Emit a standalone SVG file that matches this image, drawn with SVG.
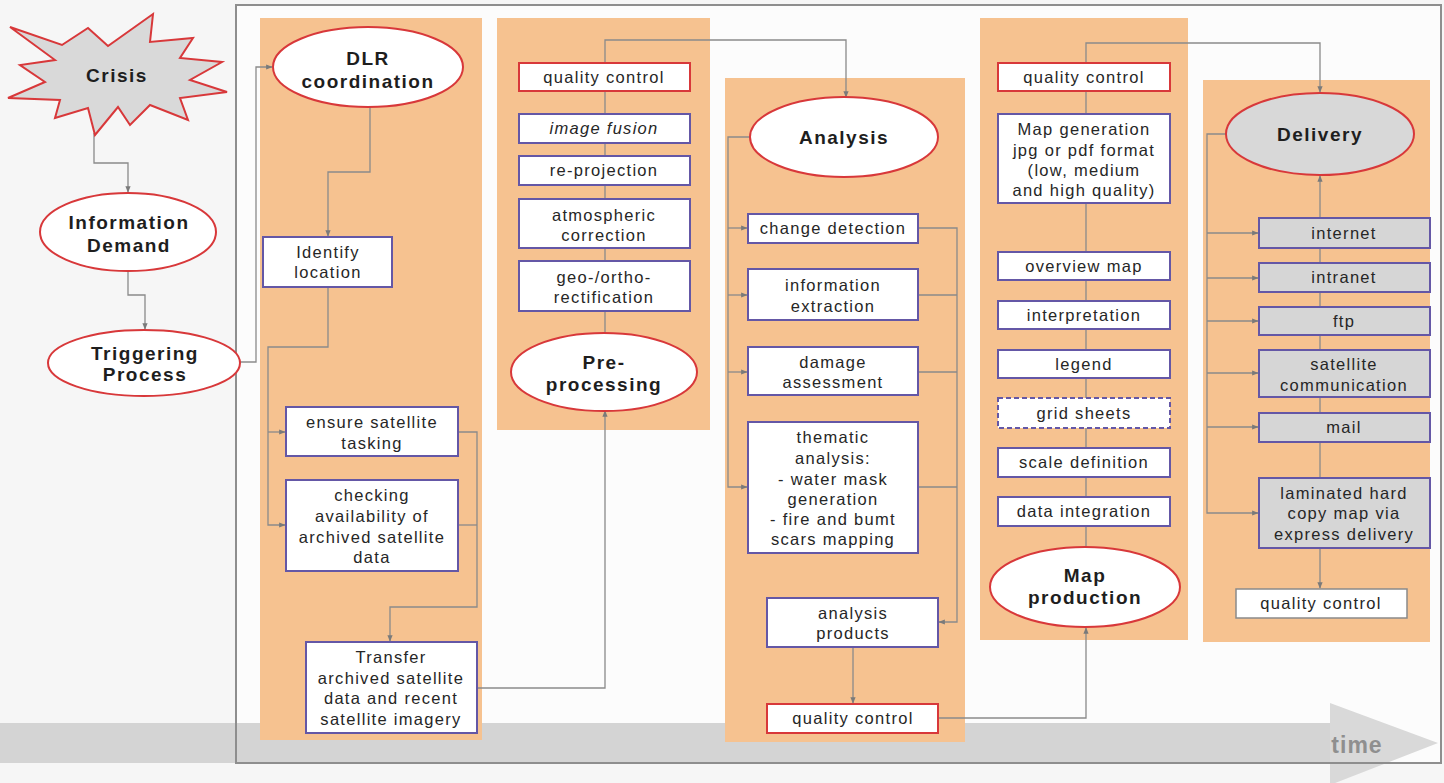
<svg xmlns="http://www.w3.org/2000/svg" width="1444" height="783" viewBox="0 0 1444 783">
  <style>
    .col { fill: #f6c290; }
    .box { fill: #ffffff; stroke: #6457a6; stroke-width: 2; }
    .qc { fill: #ffffff; stroke: #d8383a; stroke-width: 2; }
    .gbox { fill: #d6d6d6; stroke: #6457a6; stroke-width: 2; }
    .ell { fill: #ffffff; stroke: #d8383a; stroke-width: 2; }
    .gell { fill: #d8d8d8; stroke: #d8383a; stroke-width: 2; }
    .t { font-family: "Liberation Sans", Arial, sans-serif; font-size: 16.5px; letter-spacing: 1.3px; fill: #262626; text-anchor: middle; }
    .h { font-family: "Liberation Sans", Arial, sans-serif; font-size: 19px; font-weight: bold; letter-spacing: 1.5px; fill: #1e1e1e; text-anchor: middle; }
    .con { fill: none; stroke: #8a8a8a; stroke-width: 1.3; }
  </style>
  <defs>
    <marker id="arr" viewBox="0 0 10 10" refX="9" refY="5" markerWidth="5" markerHeight="5" orient="auto-start-reverse">
      <path d="M0,1 L10,5 L0,9 Z" fill="#7a7a7a"/>
    </marker>
  </defs>

  <!-- page -->
  <rect x="0" y="0" width="1444" height="783" fill="#f6f6f6"/>
  <rect x="236" y="5" width="1205" height="758" fill="#fcfcfc"/>

  <!-- time axis -->
  <g id="time-axis">
    <rect x="0" y="723" width="1332" height="40" fill="#d4d4d4"/>
    <path d="M1330,703 L1438,743 L1330,785 Z" fill="#d9d9d9"/>
    <text x="1357" y="753" font-family="Liberation Sans, Arial, sans-serif" font-size="23" font-weight="bold" letter-spacing="1" fill="#8f8f8f" text-anchor="middle">time</text>
  </g>

  <!-- process frame -->
  <rect x="236" y="5" width="1205" height="758" fill="none" stroke="#8e8e8e" stroke-width="2"/>

  <!-- phase columns -->
  <g id="columns">
    <rect class="col" x="260" y="18" width="222" height="722"/>
    <rect class="col" x="497" y="18" width="213" height="412"/>
    <rect class="col" x="725" y="78" width="240" height="664"/>
    <rect class="col" x="980" y="18" width="208" height="622"/>
    <rect class="col" x="1203" y="80" width="227" height="562"/>
  </g>

  <!-- connectors -->
  <g id="connectors">
    <path class="con" d="M94,133 V163 H128 V192" marker-end="url(#arr)"/>
    <path class="con" d="M128,272 V295 H145 V329" marker-end="url(#arr)"/>
    <path class="con" d="M240,362 H256 V67 H272" marker-end="url(#arr)"/>
    <path class="con" d="M370,107 V172 H328 V236" marker-end="url(#arr)"/>
    <path class="con" d="M328,287 V347 H268 V525 H285" marker-end="url(#arr)"/>
    <path class="con" d="M268,432 H285" marker-end="url(#arr)"/>
    <path class="con" d="M458,432 H477 V607 H390 V641" marker-end="url(#arr)"/>
    <path class="con" d="M458,525 H477"/>
    <path class="con" d="M477,688 H605 V411" marker-end="url(#arr)"/>
    <path class="con" d="M605,333 V40 H846 V97" marker-end="url(#arr)"/>
    <path class="con" d="M750,137 H728 V487 H747" marker-end="url(#arr)"/>
    <path class="con" d="M728,228 H747" marker-end="url(#arr)"/>
    <path class="con" d="M728,295 H747" marker-end="url(#arr)"/>
    <path class="con" d="M728,372 H747" marker-end="url(#arr)"/>
    <path class="con" d="M918,228 H957 V622 H939" marker-end="url(#arr)"/>
    <path class="con" d="M918,295 H957"/>
    <path class="con" d="M918,372 H957"/>
    <path class="con" d="M918,487 H957"/>
    <path class="con" d="M853,647 V703" marker-end="url(#arr)"/>
    <path class="con" d="M938,718 H1086 V628" marker-end="url(#arr)"/>
    <path class="con" d="M1086,547 V43 H1320 V92" marker-end="url(#arr)"/>
    <path class="con" d="M1227,134 H1207 V513 H1258" marker-end="url(#arr)"/>
    <path class="con" d="M1207,233 H1258" marker-end="url(#arr)"/>
    <path class="con" d="M1207,278 H1258" marker-end="url(#arr)"/>
    <path class="con" d="M1207,321 H1258" marker-end="url(#arr)"/>
    <path class="con" d="M1207,373 H1258" marker-end="url(#arr)"/>
    <path class="con" d="M1207,427 H1258" marker-end="url(#arr)"/>
    <path class="con" d="M1320,176 V588" marker-start="url(#arr)" marker-end="url(#arr)"/>
  </g>

  <!-- left chain -->
  <g id="crisis">
    <path d="M10,27 L62,45 L88,28 L108,46 L153,14 L150,42 L193,38 L180,58 L222,62 L190,80 L227,92 L180,98 L188,120 L150,105 L130,125 L118,107 L95,135 L88,108 L55,118 L60,100 L8,98 L45,82 L20,65 L55,60 Z" fill="#d9d9d9" stroke="#d8383a" stroke-width="2" stroke-linejoin="miter"/>
    <text class="h" x="117" y="82" font-size="21" letter-spacing="2">Crisis</text>
  </g>
  <g id="information-demand">
    <ellipse class="ell" cx="128" cy="232" rx="88" ry="39"/>
    <text class="h" x="129" y="229">Information</text>
    <text class="h" x="129" y="252">Demand</text>
  </g>
  <g id="triggering-process">
    <ellipse class="ell" cx="144" cy="363" rx="96" ry="33"/>
    <text class="h" x="145" y="360">Triggering</text>
    <text class="h" x="145" y="381">Process</text>
  </g>

  <!-- DLR coordination -->
  <g id="dlr-coordination">
    <ellipse class="ell" cx="368" cy="67" rx="95" ry="40"/>
    <text class="h" x="368" y="65">DLR</text>
    <text class="h" x="368" y="88">coordination</text>
  </g>
  <g id="identify-location">
    <rect class="box" x="263" y="237" width="129" height="50"/>
    <text class="t" x="328" y="258">Identify</text>
    <text class="t" x="328" y="278">location</text>
  </g>
  <g id="ensure-tasking">
    <rect class="box" x="286" y="407" width="172" height="49"/>
    <text class="t" x="372" y="428">ensure satellite</text>
    <text class="t" x="372" y="449">tasking</text>
  </g>
  <g id="checking-archive">
    <rect class="box" x="286" y="480" width="172" height="91"/>
    <text class="t" x="372" y="501">checking</text>
    <text class="t" x="372" y="522">availability of</text>
    <text class="t" x="372" y="543">archived satellite</text>
    <text class="t" x="372" y="563">data</text>
  </g>
  <g id="transfer-data">
    <rect class="box" x="306" y="642" width="171" height="91"/>
    <text class="t" x="391" y="663">Transfer</text>
    <text class="t" x="391" y="684">archived satellite</text>
    <text class="t" x="391" y="704">data and recent</text>
    <text class="t" x="391" y="725">satellite imagery</text>
  </g>

  <!-- Pre-processing -->
  <g id="pre-quality-control">
    <rect class="qc" x="519" y="63" width="171" height="28"/>
    <text class="t" x="604" y="83">quality control</text>
  </g>
  <g id="image-fusion">
    <rect class="box" x="519" y="114" width="171" height="29"/>
    <text class="t" x="604" y="134" font-style="italic">image fusion</text>
  </g>
  <g id="re-projection">
    <rect class="box" x="519" y="156" width="171" height="29"/>
    <text class="t" x="604" y="176">re-projection</text>
  </g>
  <g id="atmospheric-correction">
    <rect class="box" x="519" y="199" width="171" height="49"/>
    <text class="t" x="604" y="221">atmospheric</text>
    <text class="t" x="604" y="241">correction</text>
  </g>
  <g id="geo-ortho-rectification">
    <rect class="box" x="519" y="261" width="171" height="50"/>
    <text class="t" x="604" y="283">geo-/ortho-</text>
    <text class="t" x="604" y="303">rectification</text>
  </g>
  <g id="pre-processing">
    <ellipse class="ell" cx="604" cy="372" rx="93" ry="39"/>
    <text class="h" x="604" y="369">Pre-</text>
    <text class="h" x="604" y="391">processing</text>
  </g>

  <!-- Analysis -->
  <g id="analysis">
    <ellipse class="ell" cx="844" cy="137" rx="94" ry="40"/>
    <text class="h" x="844" y="144">Analysis</text>
  </g>
  <g id="change-detection">
    <rect class="box" x="748" y="214" width="170" height="29"/>
    <text class="t" x="833" y="234">change detection</text>
  </g>
  <g id="information-extraction">
    <rect class="box" x="748" y="269" width="170" height="51"/>
    <text class="t" x="833" y="291">information</text>
    <text class="t" x="833" y="312">extraction</text>
  </g>
  <g id="damage-assessment">
    <rect class="box" x="748" y="347" width="170" height="48"/>
    <text class="t" x="833" y="368">damage</text>
    <text class="t" x="833" y="388">assessment</text>
  </g>
  <g id="thematic-analysis">
    <rect class="box" x="748" y="422" width="170" height="131"/>
    <text class="t" x="833" y="443">thematic</text>
    <text class="t" x="833" y="464">analysis:</text>
    <text class="t" x="833" y="485">- water mask</text>
    <text class="t" x="833" y="505">generation</text>
    <text class="t" x="833" y="525">- fire and bumt</text>
    <text class="t" x="833" y="545">scars mapping</text>
  </g>
  <g id="analysis-products">
    <rect class="box" x="767" y="598" width="171" height="49"/>
    <text class="t" x="853" y="619">analysis</text>
    <text class="t" x="853" y="639">products</text>
  </g>
  <g id="analysis-quality-control">
    <rect class="qc" x="767" y="704" width="171" height="29"/>
    <text class="t" x="853" y="724">quality control</text>
  </g>

  <!-- Map production -->
  <g id="map-quality-control">
    <rect class="qc" x="998" y="63" width="172" height="28"/>
    <text class="t" x="1084" y="83">quality control</text>
  </g>
  <g id="map-generation">
    <rect class="box" x="998" y="114" width="172" height="89"/>
    <text class="t" x="1084" y="135">Map generation</text>
    <text class="t" x="1084" y="156">jpg or pdf format</text>
    <text class="t" x="1084" y="176">(low, medium</text>
    <text class="t" x="1084" y="196">and high quality)</text>
  </g>
  <g id="overview-map">
    <rect class="box" x="998" y="252" width="172" height="28"/>
    <text class="t" x="1084" y="272">overview map</text>
  </g>
  <g id="interpretation">
    <rect class="box" x="998" y="301" width="172" height="28"/>
    <text class="t" x="1084" y="321">interpretation</text>
  </g>
  <g id="legend">
    <rect class="box" x="998" y="350" width="172" height="28"/>
    <text class="t" x="1084" y="370">legend</text>
  </g>
  <g id="grid-sheets">
    <rect class="box" x="998" y="398" width="172" height="30" stroke-dasharray="5,3"/>
    <text class="t" x="1084" y="419">grid sheets</text>
  </g>
  <g id="scale-definition">
    <rect class="box" x="998" y="448" width="172" height="29"/>
    <text class="t" x="1084" y="468">scale definition</text>
  </g>
  <g id="data-integration">
    <rect class="box" x="998" y="497" width="172" height="29"/>
    <text class="t" x="1084" y="517">data integration</text>
  </g>
  <g id="map-production">
    <ellipse class="ell" cx="1085" cy="587" rx="95" ry="40"/>
    <text class="h" x="1085" y="582">Map</text>
    <text class="h" x="1085" y="604">production</text>
  </g>

  <!-- Delivery -->
  <g id="delivery">
    <ellipse class="gell" cx="1320" cy="134" rx="94" ry="41"/>
    <text class="h" x="1320" y="141">Delivery</text>
  </g>
  <g id="internet">
    <rect class="gbox" x="1259" y="218" width="171" height="30"/>
    <text class="t" x="1344" y="239">internet</text>
  </g>
  <g id="intranet">
    <rect class="gbox" x="1259" y="263" width="171" height="29"/>
    <text class="t" x="1344" y="283">intranet</text>
  </g>
  <g id="ftp">
    <rect class="gbox" x="1259" y="307" width="171" height="28"/>
    <text class="t" x="1344" y="327">ftp</text>
  </g>
  <g id="satellite-communication">
    <rect class="gbox" x="1259" y="350" width="171" height="47"/>
    <text class="t" x="1344" y="370">satellite</text>
    <text class="t" x="1344" y="391">communication</text>
  </g>
  <g id="mail">
    <rect class="gbox" x="1259" y="413" width="171" height="29"/>
    <text class="t" x="1344" y="433">mail</text>
  </g>
  <g id="laminated-hard-copy">
    <rect class="gbox" x="1259" y="478" width="171" height="70"/>
    <text class="t" x="1344" y="499">laminated hard</text>
    <text class="t" x="1344" y="519">copy map via</text>
    <text class="t" x="1344" y="540">express delivery</text>
  </g>
  <g id="delivery-quality-control">
    <rect x="1236" y="589" width="171" height="29" fill="#ffffff" stroke="#8a8a8a" stroke-width="1.5"/>
    <text class="t" x="1321" y="609">quality control</text>
  </g>
</svg>
